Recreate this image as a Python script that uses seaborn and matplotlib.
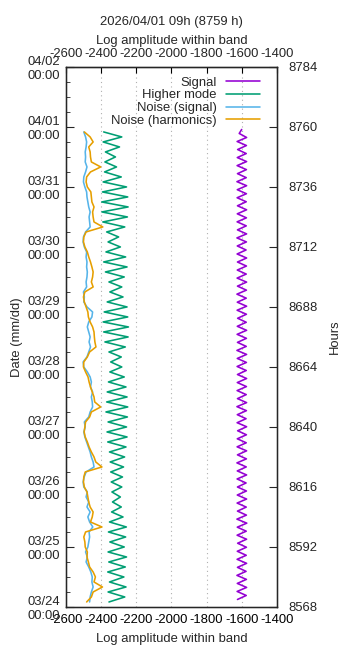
import matplotlib

matplotlib.use("Agg")

import matplotlib.pyplot as plt
import numpy as np
import seaborn as sns

# Values.

# grid of hours for the higher mode and the two noise curves (every 2 h)
grid_hours = np.arange(8570, 8759, 2)

higher_mode = [
    -2355, -2265, -2360, -2258, -2352, -2270, -2362, -2262, -2356, -2255,
    -2360, -2268, -2350, -2260, -2358, -2256, -2352, -2275, -2340, -2285,
    -2335, -2290, -2338, -2282, -2342, -2278, -2345, -2272, -2348, -2266,
    -2352, -2258, -2362, -2252, -2366, -2255, -2360, -2250, -2372, -2248,
    -2368, -2252, -2365, -2258, -2358, -2268, -2350, -2282, -2345, -2285,
    -2355, -2262, -2378, -2246, -2385, -2244, -2388, -2248, -2382, -2252,
    -2365, -2275, -2350, -2282, -2355, -2268, -2375, -2252, -2385, -2260,
    -2372, -2290, -2360, -2300, -2368, -2265, -2390, -2250, -2395, -2246,
    -2396, -2248, -2392, -2255, -2388, -2285, -2380, -2312, -2378, -2318,
    -2375, -2295, -2388, -2282, -2385,
]

noise_harmonics = [
    -2482, -2455, -2445, -2392, -2440, -2432, -2445, -2465, -2472, -2480,
    -2478, -2490, -2492, -2498, -2488, -2395, -2460, -2450, -2445, -2462,
    -2470, -2475, -2480, -2495, -2500, -2498, -2490, -2395, -2430, -2440,
    -2455, -2468, -2478, -2490, -2496, -2492, -2488, -2465, -2455, -2402,
    -2436, -2440, -2450, -2460, -2468, -2474, -2488, -2500, -2498, -2478,
    -2465, -2429, -2435, -2438, -2440, -2448, -2462, -2472, -2475, -2485,
    -2495, -2500, -2492, -2445, -2455, -2448, -2445, -2452, -2460, -2470,
    -2478, -2492, -2500, -2498, -2485, -2390, -2440, -2445, -2448, -2440,
    -2452, -2455, -2458, -2478, -2485, -2482, -2460, -2402, -2455, -2460,
    -2462, -2470, -2445, -2462, -2495,
]

noise_signal = [
    -2465, -2462, -2455, -2445, -2452, -2450, -2458, -2470, -2485, -2478,
    -2488, -2475, -2470, -2465, -2468, -2447, -2465, -2475, -2462, -2480,
    -2470, -2485, -2478, -2498, -2502, -2496, -2485, -2440, -2445, -2455,
    -2462, -2472, -2482, -2492, -2498, -2490, -2495, -2470, -2462, -2448,
    -2450, -2455, -2448, -2460, -2455, -2462, -2478, -2498, -2502, -2480,
    -2470, -2460, -2468, -2462, -2470, -2478, -2470, -2452, -2448, -2480,
    -2498, -2495, -2500, -2482, -2485, -2480, -2478, -2482, -2480, -2485,
    -2482, -2495, -2502, -2500, -2488, -2462, -2465, -2468, -2462, -2470,
    -2475, -2480, -2482, -2492, -2500, -2498, -2488, -2480, -2490, -2488,
    -2490, -2485, -2482, -2488, -2498,
]

# the signal turns every ~1.6 h
signal_hours = np.linspace(8571, 8759, 118)
signal = [
    -1624, -1574, -1626, -1572, -1625, -1573, -1627, -1575, -1624, -1572,
    -1626, -1574, -1625, -1573, -1623, -1572, -1626, -1574, -1625, -1571,
    -1627, -1573, -1624, -1574, -1626, -1572, -1625, -1573, -1624, -1575,
    -1626, -1572, -1625, -1574, -1627, -1573, -1624, -1572, -1626, -1574,
    -1625, -1573, -1623, -1572, -1626, -1575, -1625, -1573, -1627, -1572,
    -1624, -1574, -1626, -1573, -1625, -1572, -1624, -1574, -1626, -1573,
    -1625, -1572, -1627, -1574, -1624, -1573, -1626, -1572, -1625, -1574,
    -1623, -1573, -1626, -1572, -1625, -1574, -1627, -1573, -1624, -1572,
    -1626, -1574, -1625, -1573, -1624, -1572, -1626, -1575, -1625, -1573,
    -1627, -1572, -1624, -1574, -1626, -1573, -1625, -1572, -1624, -1574,
    -1626, -1573, -1625, -1572, -1627, -1574, -1624, -1573, -1626, -1572,
    -1625, -1574, -1623, -1573, -1626, -1572, -1614, -1600,
]

x_ticks = [-2600, -2400, -2200, -2000, -1800, -1600, -1400]
hour_ticks = [8568, 8592, 8616, 8640, 8664, 8688, 8712, 8736, 8760, 8784]
date_labels = [
    "03/24\n00:00", "03/25\n00:00", "03/26\n00:00", "03/27\n00:00", "03/28\n00:00",
    "03/29\n00:00", "03/30\n00:00", "03/31\n00:00", "04/01\n00:00", "04/02\n00:00",
]

sns.set_style("white")
plt.rcParams["font.family"] = ["Liberation Sans", "DejaVu Sans"]
plt.rcParams["font.size"] = 9.4
plt.rcParams["axes.unicode_minus"] = False

fig = plt.figure(figsize=(3.6, 6.48), dpi=100)
ax = fig.add_axes([0.183, 0.0633, 0.586, 0.8334])

series = [
    (signal, signal_hours, "Signal", "#9400d3"),
    (higher_mode, grid_hours, "Higher mode", "#009e73"),
    (noise_signal, grid_hours, "Noise (signal)", "#56b4e9"),
    (noise_harmonics, grid_hours, "Noise (harmonics)", "#e69f00"),
]
for vals, hrs, label, color in series:
    sns.lineplot(x=vals, y=hrs, orient="y", sort=False, estimator=None,
                 color=color, lw=1.15, label=label, ax=ax)

ax.set_xlim(-2600, -1400)
ax.set_ylim(8568, 8784)
ax.set_xticks(x_ticks)
ax.set_yticks(hour_ticks)
ax.set_yticklabels(date_labels)
ax.set_yticks(np.arange(8568, 8785, 6), minor=True)
for x in x_ticks[1:-1]:
    ax.axvline(x, color="#b0b0b0", lw=0.8, ls=(0, (1, 3)), zorder=0)

ax.tick_params(axis="x", which="major", direction="in", length=4, top=True, pad=5, colors="black")
ax.tick_params(axis="y", which="major", direction="in", length=6, left=True, right=False, pad=4)
ax.tick_params(axis="y", which="minor", direction="in", length=3, left=True, right=False)
for s in ax.spines.values():
    s.set_color("black")
    s.set_linewidth(1.0)

ax.set_xlabel("Log amplitude within band", labelpad=5)
ax.set_ylabel("Date (mm/dd)", labelpad=3)

secax = ax.secondary_xaxis("top")
secax.set_xticks(x_ticks)
secax.tick_params(direction="in", length=0, pad=5)
secax.set_xlabel("Log amplitude within band", labelpad=3)

ax2 = ax.twinx()
ax2.set_ylim(8568, 8784)
ax2.set_yticks(hour_ticks)
ax2.tick_params(axis="y", direction="in", length=6, pad=8)
ax2.set_ylabel("Hours", labelpad=8)

fig.text(0.476, 1 - 22 / 648, "2026/04/01 09h (8759 h)", ha="center", va="center")

ax.legend(loc="upper right", bbox_to_anchor=(0.955, 0.997), frameon=False, markerfirst=False,
          handlelength=2.6, labelspacing=0.05, borderaxespad=0.2, handletextpad=0.7)

fig.savefig("out.png", dpi=100)
